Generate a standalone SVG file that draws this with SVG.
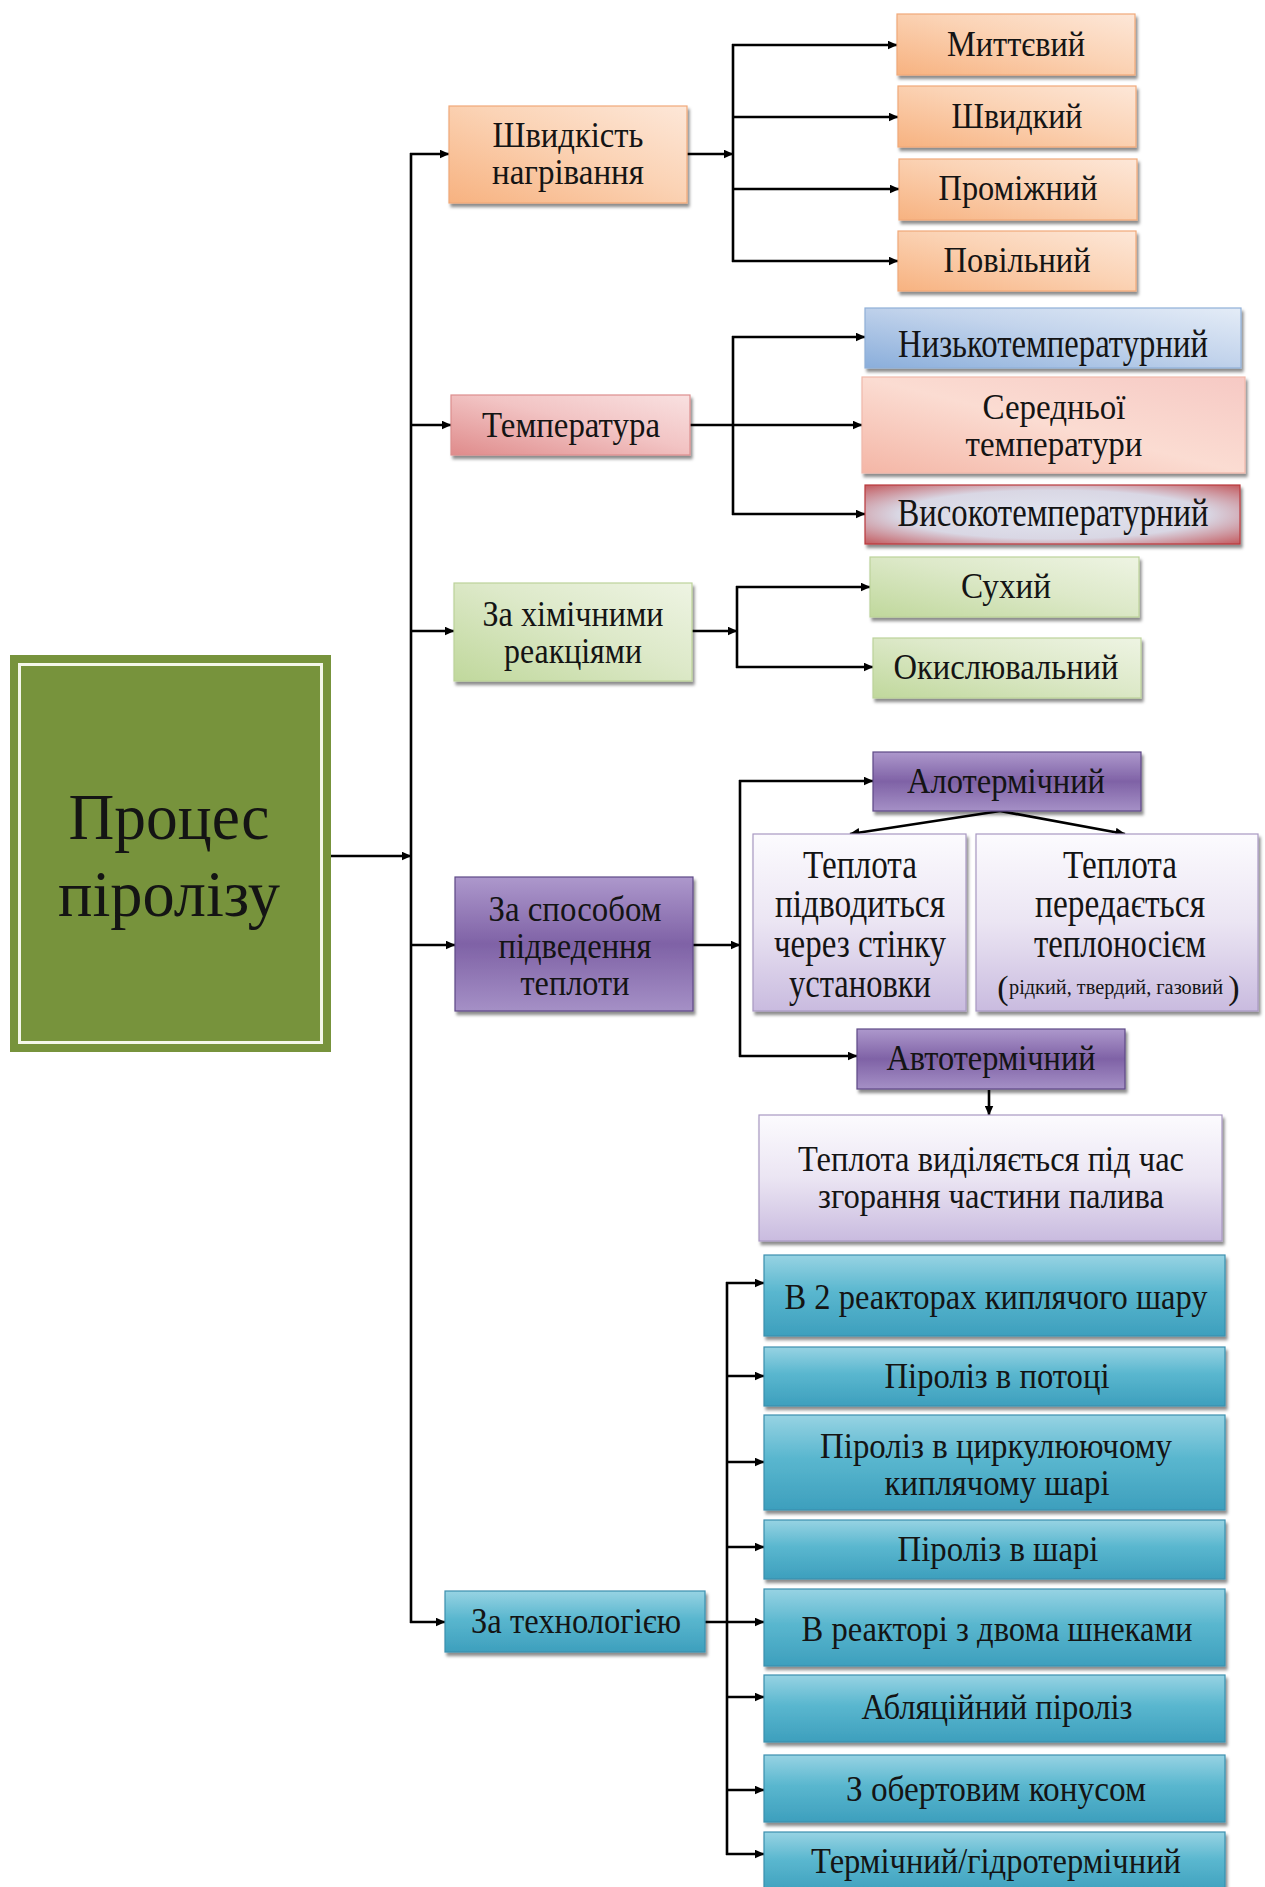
<svg xmlns="http://www.w3.org/2000/svg" width="1265" height="1887" viewBox="0 0 1265 1887">
  <defs>
    <style>
      .t { font-family: "Liberation Serif", "Times New Roman", serif; font-size: 35px; fill: #141414; text-anchor: middle; }
      .big { font-size: 39px; }
      .mid { font-size: 36px; }
      .paren { font-size: 34px; }
      .main { font-size: 65px; }
      .small { font-size: 21px; }
      .ln { fill: none; stroke: #000; stroke-width: 2.6; }
      .arr { fill: none; stroke: #000; stroke-width: 2.6; marker-end: url(#ah); }
      .box { filter: url(#sh); stroke-width: 1.2; }
    </style>
    <marker id="ah" markerUnits="userSpaceOnUse" markerWidth="10" markerHeight="9" refX="9.5" refY="4.5" orient="auto">
      <path d="M0,0 L10,4.5 L0,9 Z" fill="#000"/>
    </marker>
    <filter id="sh" x="-5%" y="-10%" width="112%" height="130%">
      <feDropShadow dx="2" dy="3.5" stdDeviation="1.4" flood-color="#000" flood-opacity="0.45"/>
    </filter>
    <linearGradient id="gOrange" x1="0" y1="1" x2="1" y2="0">
      <stop offset="0" stop-color="#f7b280"/>
      <stop offset="0.55" stop-color="#fbd3b5"/>
      <stop offset="1" stop-color="#fde7d8"/>
    </linearGradient>
    <linearGradient id="gPink" x1="0" y1="1" x2="1" y2="0">
      <stop offset="0" stop-color="#df8b8b"/>
      <stop offset="0.55" stop-color="#f2c4c4"/>
      <stop offset="1" stop-color="#f9e1e1"/>
    </linearGradient>
    <linearGradient id="gBlue" x1="0" y1="1" x2="1" y2="0">
      <stop offset="0" stop-color="#8aaedb"/>
      <stop offset="0.55" stop-color="#c3d4ec"/>
      <stop offset="1" stop-color="#e4ecf7"/>
    </linearGradient>
    <linearGradient id="gPeach" x1="0" y1="1" x2="1" y2="0">
      <stop offset="0" stop-color="#f4b6a6"/>
      <stop offset="0.5" stop-color="#fbdcd2"/>
      <stop offset="1" stop-color="#f6c9c4"/>
    </linearGradient>
    <radialGradient id="gRed" cx="0.5" cy="0.5" r="0.75">
      <stop offset="0" stop-color="#e2e5f0"/>
      <stop offset="0.55" stop-color="#d9d7e4"/>
      <stop offset="1" stop-color="#c0474a"/>
    </radialGradient>
    <linearGradient id="gGreen" x1="0" y1="1" x2="1" y2="0">
      <stop offset="0" stop-color="#c0d89c"/>
      <stop offset="0.55" stop-color="#dde9c9"/>
      <stop offset="1" stop-color="#eef4e3"/>
    </linearGradient>
    <linearGradient id="gPurple" x1="0" y1="0" x2="0" y2="1">
      <stop offset="0" stop-color="#ad98cc"/>
      <stop offset="0.5" stop-color="#7f62a6"/>
      <stop offset="1" stop-color="#a590c6"/>
    </linearGradient>
    <linearGradient id="gLilac" x1="0" y1="0" x2="0" y2="1">
      <stop offset="0" stop-color="#fcfbfe"/>
      <stop offset="0.5" stop-color="#ebe5f3"/>
      <stop offset="1" stop-color="#c9bbdf"/>
    </linearGradient>
    <linearGradient id="gTeal" x1="0" y1="0" x2="0" y2="1">
      <stop offset="0" stop-color="#97d3e3"/>
      <stop offset="0.45" stop-color="#5ab7cf"/>
      <stop offset="1" stop-color="#3d9fbd"/>
    </linearGradient>
  </defs>

  <rect width="1265" height="1887" fill="#ffffff"/>

  <!-- connectors -->
  <g id="connectors">
    <line class="arr" x1="331" y1="856" x2="411" y2="856"/>
    <line class="ln" x1="411" y1="153" x2="411" y2="1623"/>
    <line class="arr" x1="410" y1="154" x2="449" y2="154"/>
    <line class="arr" x1="410" y1="425" x2="451" y2="425"/>
    <line class="arr" x1="410" y1="631" x2="454" y2="631"/>
    <line class="arr" x1="410" y1="945" x2="455" y2="945"/>
    <line class="arr" x1="410" y1="1622" x2="445" y2="1622"/>

    <!-- heating rate -->
    <line class="arr" x1="687" y1="154" x2="733" y2="154"/>
    <line class="ln" x1="733" y1="44" x2="733" y2="262"/>
    <line class="arr" x1="732" y1="45" x2="897" y2="45"/>
    <line class="arr" x1="732" y1="117" x2="898" y2="117"/>
    <line class="arr" x1="732" y1="189" x2="899" y2="189"/>
    <line class="arr" x1="732" y1="261" x2="898" y2="261"/>

    <!-- temperature -->
    <line class="arr" x1="690" y1="425" x2="862" y2="425"/>
    <line class="ln" x1="733" y1="336" x2="733" y2="515"/>
    <line class="arr" x1="732" y1="337" x2="865" y2="337"/>
    <line class="arr" x1="732" y1="514" x2="865" y2="514"/>

    <!-- chemical reactions -->
    <line class="arr" x1="692" y1="631" x2="737" y2="631"/>
    <line class="ln" x1="737" y1="586" x2="737" y2="668"/>
    <line class="arr" x1="736" y1="587" x2="870" y2="587"/>
    <line class="arr" x1="736" y1="667" x2="873" y2="667"/>

    <!-- heat supply -->
    <line class="arr" x1="693" y1="945" x2="740" y2="945"/>
    <line class="ln" x1="740" y1="780" x2="740" y2="1057"/>
    <line class="arr" x1="739" y1="781" x2="873" y2="781"/>
    <line class="arr" x1="739" y1="1056" x2="857" y2="1056"/>
    <line class="arr" x1="1000" y1="811" x2="850" y2="834"/>
    <line class="arr" x1="1000" y1="811" x2="1125" y2="834"/>
    <line class="arr" x1="989" y1="1090" x2="989" y2="1115"/>

    <!-- technology -->
    <line class="arr" x1="705" y1="1622" x2="764" y2="1622"/>
    <line class="ln" x1="727" y1="1282" x2="727" y2="1855"/>
    <line class="arr" x1="726" y1="1283" x2="764" y2="1283"/>
    <line class="arr" x1="726" y1="1376" x2="764" y2="1376"/>
    <line class="arr" x1="726" y1="1462" x2="764" y2="1462"/>
    <line class="arr" x1="726" y1="1547" x2="764" y2="1547"/>
    <line class="arr" x1="726" y1="1697" x2="764" y2="1697"/>
    <line class="arr" x1="726" y1="1790" x2="764" y2="1790"/>
    <line class="arr" x1="726" y1="1854" x2="764" y2="1854"/>
  </g>

  <!-- root -->
  <g id="root">
    <rect x="10" y="655" width="321" height="397" fill="#77933c"/>
    <rect x="19.5" y="664.5" width="302" height="378" fill="none" stroke="#f4f7ea" stroke-width="3"/>
    <text class="t main" x="169" y="839" textLength="201" lengthAdjust="spacingAndGlyphs">Процес</text>
    <text class="t main" x="169" y="916" textLength="222" lengthAdjust="spacingAndGlyphs">піролізу</text>
  </g>

  <!-- heating rate -->
  <g id="speed">
    <rect class="box" x="449" y="106" width="238" height="97" fill="url(#gOrange)" stroke="#f0a878"/>
    <text class="t" x="568" y="147" textLength="151" lengthAdjust="spacingAndGlyphs">Швидкість</text>
    <text class="t" x="568" y="184" textLength="152" lengthAdjust="spacingAndGlyphs">нагрівання</text>
  </g>
  <g id="speed-flash">
    <rect class="box" x="897" y="14" width="238" height="61" fill="url(#gOrange)" stroke="#f0a878"/>
    <text class="t" x="1016" y="56" textLength="138" lengthAdjust="spacingAndGlyphs">Миттєвий</text>
  </g>
  <g id="speed-fast">
    <rect class="box" x="898" y="86" width="238" height="61" fill="url(#gOrange)" stroke="#f0a878"/>
    <text class="t" x="1017" y="128" textLength="131" lengthAdjust="spacingAndGlyphs">Швидкий</text>
  </g>
  <g id="speed-mid">
    <rect class="box" x="899" y="159" width="238" height="61" fill="url(#gOrange)" stroke="#f0a878"/>
    <text class="t" x="1018" y="200" textLength="159" lengthAdjust="spacingAndGlyphs">Проміжний</text>
  </g>
  <g id="speed-slow">
    <rect class="box" x="898" y="231" width="238" height="60" fill="url(#gOrange)" stroke="#f0a878"/>
    <text class="t" x="1017" y="272" textLength="147" lengthAdjust="spacingAndGlyphs">Повільний</text>
  </g>

  <!-- temperature -->
  <g id="temp">
    <rect class="box" x="451" y="395" width="239" height="60" fill="url(#gPink)" stroke="#dc8e8e"/>
    <text class="t" x="571" y="437" textLength="178" lengthAdjust="spacingAndGlyphs">Температура</text>
  </g>
  <g id="temp-low">
    <rect class="box" x="865" y="308" width="376" height="60" fill="url(#gBlue)" stroke="#8fb0d8"/>
    <text class="t big" x="1053" y="357" textLength="310" lengthAdjust="spacingAndGlyphs">Низькотемпературний</text>
  </g>
  <g id="temp-mid">
    <rect class="box" x="862" y="377" width="383" height="96" fill="url(#gPeach)" stroke="#f0b8aa"/>
    <text class="t mid" x="1054" y="419" textLength="143" lengthAdjust="spacingAndGlyphs">Середньої</text>
    <text class="t mid" x="1054" y="456" textLength="177" lengthAdjust="spacingAndGlyphs">температури</text>
  </g>
  <g id="temp-high">
    <rect class="box" x="865" y="485" width="375" height="59" fill="url(#gRed)" stroke="#b9393c" stroke-width="2"/>
    <text class="t big" x="1053" y="526" textLength="311" lengthAdjust="spacingAndGlyphs">Високотемпературний</text>
  </g>

  <!-- chemical reactions -->
  <g id="chem">
    <rect class="box" x="454" y="583" width="238" height="98" fill="url(#gGreen)" stroke="#bcd29a"/>
    <text class="t" x="573" y="626" textLength="181" lengthAdjust="spacingAndGlyphs">За хімічними</text>
    <text class="t" x="573" y="663" textLength="138" lengthAdjust="spacingAndGlyphs">реакціями</text>
  </g>
  <g id="chem-dry">
    <rect class="box" x="870" y="557" width="269" height="60" fill="url(#gGreen)" stroke="#bcd29a"/>
    <text class="t" x="1006" y="598" textLength="90" lengthAdjust="spacingAndGlyphs">Сухий</text>
  </g>
  <g id="chem-ox">
    <rect class="box" x="873" y="638" width="268" height="60" fill="url(#gGreen)" stroke="#bcd29a"/>
    <text class="t" x="1006" y="679" textLength="225" lengthAdjust="spacingAndGlyphs">Окислювальний</text>
  </g>

  <!-- heat supply -->
  <g id="heat">
    <rect class="box" x="455" y="877" width="238" height="134" fill="url(#gPurple)" stroke="#5e4886"/>
    <text class="t" x="575" y="921" textLength="173" lengthAdjust="spacingAndGlyphs">За способом</text>
    <text class="t" x="575" y="958" textLength="153" lengthAdjust="spacingAndGlyphs">підведення</text>
    <text class="t" x="575" y="995" textLength="109" lengthAdjust="spacingAndGlyphs">теплоти</text>
  </g>
  <g id="heat-allo">
    <rect class="box" x="873" y="752" width="268" height="59" fill="url(#gPurple)" stroke="#5e4886"/>
    <text class="t" x="1006" y="793" textLength="198" lengthAdjust="spacingAndGlyphs">Алотермічний</text>
  </g>
  <g id="heat-allo-wall">
    <rect class="box" x="753" y="834" width="213" height="177" fill="url(#gLilac)" stroke="#a898c2"/>
    <text class="t big" x="860" y="878" textLength="114" lengthAdjust="spacingAndGlyphs">Теплота</text>
    <text class="t big" x="860" y="917" textLength="170" lengthAdjust="spacingAndGlyphs">підводиться</text>
    <text class="t big" x="860" y="957" textLength="172" lengthAdjust="spacingAndGlyphs">через стінку</text>
    <text class="t big" x="860" y="997" textLength="142" lengthAdjust="spacingAndGlyphs">установки</text>
  </g>
  <g id="heat-allo-carrier">
    <rect class="box" x="976" y="834" width="282" height="177" fill="url(#gLilac)" stroke="#a898c2"/>
    <text class="t big" x="1120" y="878" textLength="114" lengthAdjust="spacingAndGlyphs">Теплота</text>
    <text class="t big" x="1120" y="917" textLength="170" lengthAdjust="spacingAndGlyphs">передається</text>
    <text class="t big" x="1120" y="957" textLength="172" lengthAdjust="spacingAndGlyphs">теплоносієм</text>
    <text class="t paren" x="1003" y="999">(</text>
    <text class="t small" x="1116" y="994" textLength="214" lengthAdjust="spacingAndGlyphs">рідкий, твердий, газовий</text>
    <text class="t paren" x="1234" y="999">)</text>
  </g>
  <g id="heat-auto">
    <rect class="box" x="857" y="1029" width="268" height="60" fill="url(#gPurple)" stroke="#5e4886"/>
    <text class="t" x="991" y="1070" textLength="209" lengthAdjust="spacingAndGlyphs">Автотермічний</text>
  </g>
  <g id="heat-auto-combustion">
    <rect class="box" x="759" y="1115" width="463" height="126" fill="url(#gLilac)" stroke="#a898c2"/>
    <text class="t" x="991" y="1171" textLength="386" lengthAdjust="spacingAndGlyphs">Теплота виділяється під час</text>
    <text class="t" x="991" y="1208" textLength="346" lengthAdjust="spacingAndGlyphs">згорання частини палива</text>
  </g>

  <!-- technology -->
  <g id="tech">
    <rect class="box" x="445" y="1591" width="260" height="61" fill="url(#gTeal)" stroke="#3a8fae"/>
    <text class="t" x="576" y="1633" textLength="210" lengthAdjust="spacingAndGlyphs">За технологією</text>
  </g>
  <g id="tech-twin-bed">
    <rect class="box" x="764" y="1255" width="461" height="81" fill="url(#gTeal)" stroke="#3a8fae"/>
    <text class="t" x="996" y="1309" textLength="423" lengthAdjust="spacingAndGlyphs">В 2 реакторах киплячого шару</text>
  </g>
  <g id="tech-entrained">
    <rect class="box" x="764" y="1347" width="461" height="59" fill="url(#gTeal)" stroke="#3a8fae"/>
    <text class="t" x="997" y="1388" textLength="225" lengthAdjust="spacingAndGlyphs">Піроліз в потоці</text>
  </g>
  <g id="tech-circulating">
    <rect class="box" x="764" y="1415" width="461" height="95" fill="url(#gTeal)" stroke="#3a8fae"/>
    <text class="t" x="996" y="1458" textLength="352" lengthAdjust="spacingAndGlyphs">Піроліз в циркулюючому</text>
    <text class="t" x="997" y="1495" textLength="225" lengthAdjust="spacingAndGlyphs">киплячому шарі</text>
  </g>
  <g id="tech-fixed-bed">
    <rect class="box" x="764" y="1520" width="461" height="59" fill="url(#gTeal)" stroke="#3a8fae"/>
    <text class="t" x="998" y="1561" textLength="201" lengthAdjust="spacingAndGlyphs">Піроліз в шарі</text>
  </g>
  <g id="tech-auger">
    <rect class="box" x="764" y="1589" width="461" height="77" fill="url(#gTeal)" stroke="#3a8fae"/>
    <text class="t" x="997" y="1641" textLength="391" lengthAdjust="spacingAndGlyphs">В реакторі з двома шнеками</text>
  </g>
  <g id="tech-ablative">
    <rect class="box" x="764" y="1675" width="461" height="67" fill="url(#gTeal)" stroke="#3a8fae"/>
    <text class="t" x="997" y="1719" textLength="271" lengthAdjust="spacingAndGlyphs">Абляційний піроліз</text>
  </g>
  <g id="tech-cone">
    <rect class="box" x="764" y="1755" width="461" height="67" fill="url(#gTeal)" stroke="#3a8fae"/>
    <text class="t" x="996" y="1801" textLength="300" lengthAdjust="spacingAndGlyphs">З обертовим конусом</text>
  </g>
  <g id="tech-hydrothermal">
    <rect class="box" x="764" y="1832" width="461" height="62" fill="url(#gTeal)" stroke="#3a8fae"/>
    <text class="t" x="996" y="1873" textLength="370" lengthAdjust="spacingAndGlyphs">Термічний/гідротермічний</text>
  </g>
</svg>
